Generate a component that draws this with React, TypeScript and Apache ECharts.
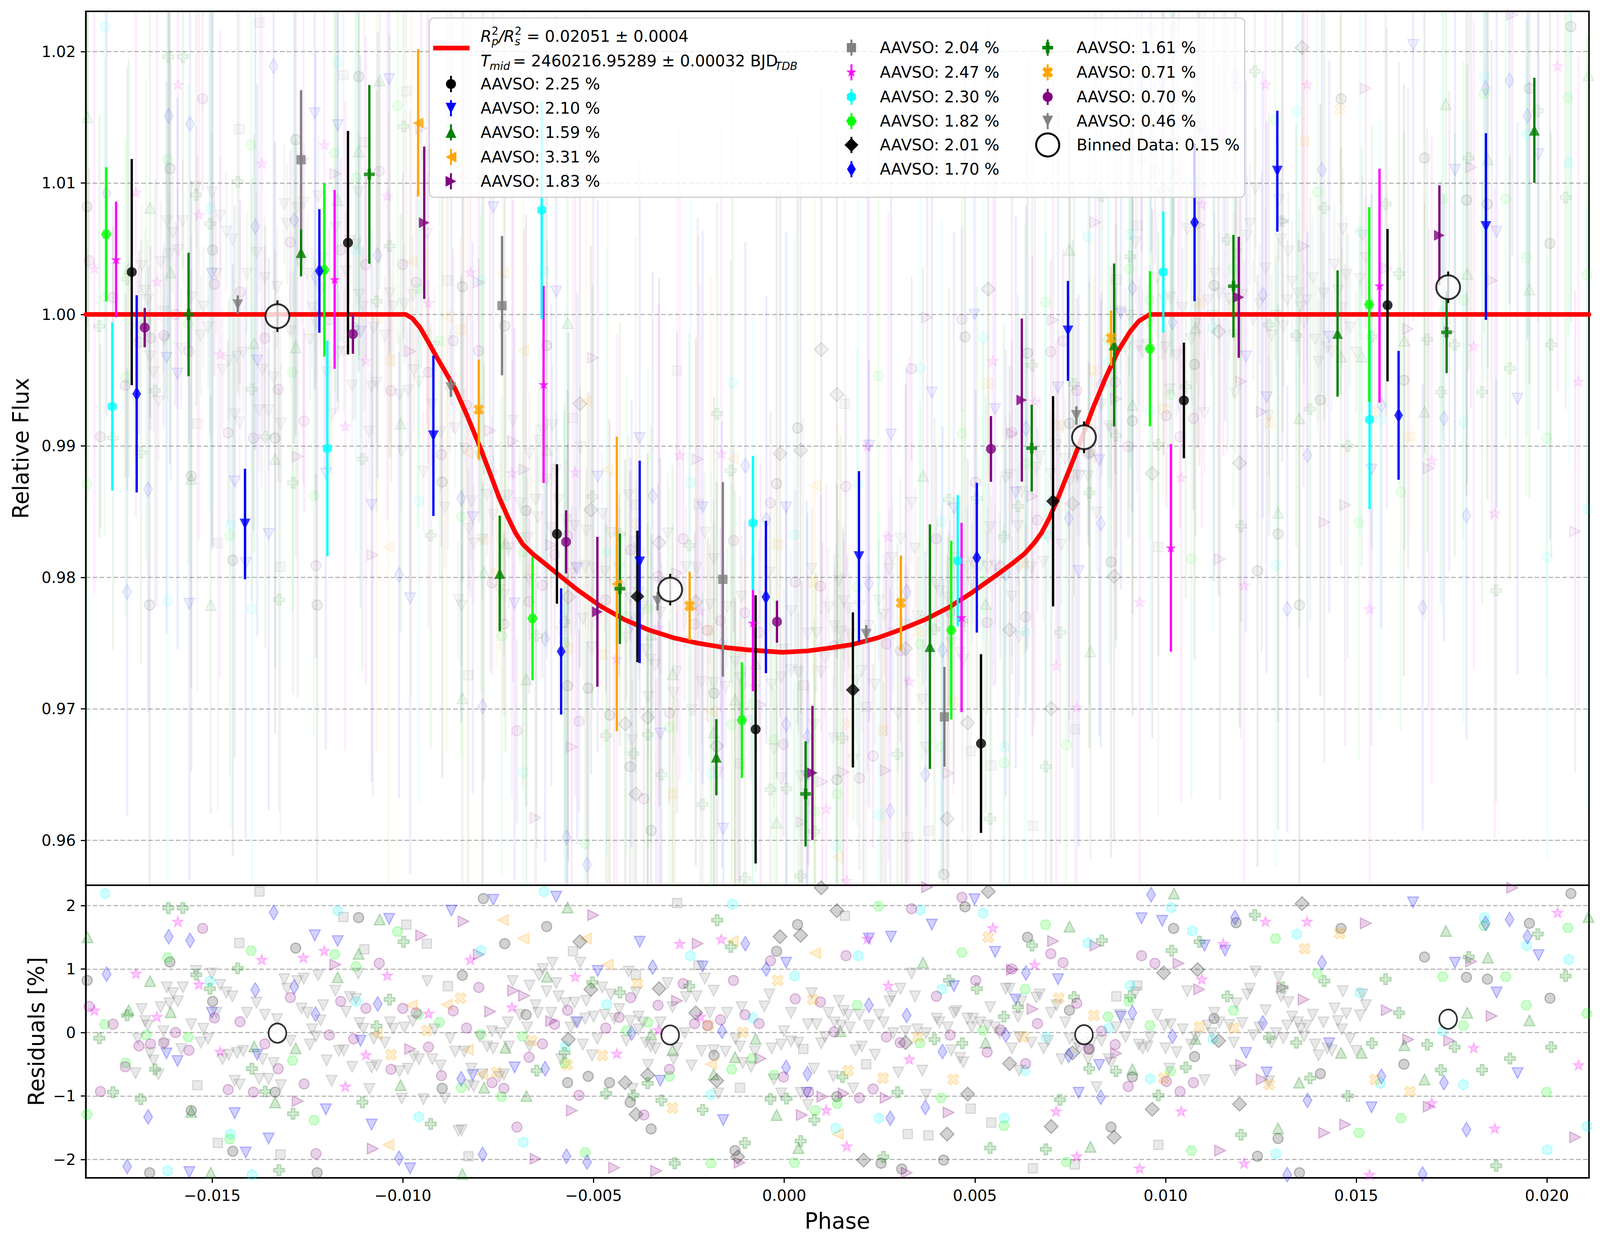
import React, { useEffect, useRef } from 'react';
import * as echarts from 'echarts';

const REF_W = 4215;
const REF_H = 3192;
const FONT = 'DejaVu Sans';

const X_MIN = -0.018315;
const X_MAX = 0.021103;
const Y_MIN = 0.95658;
const Y_MAX = 1.02306;
const R_MIN = -2.29;
const R_MAX = 2.32;

const xTicks = [-0.015, -0.01, -0.005, 0, 0.005, 0.01, 0.015, 0.02];
const yTicks = [0.96, 0.97, 0.98, 0.99, 1.0, 1.01, 1.02];
const rTicks = [-2, -1, 0, 1, 2];

// transit model
const modelX = [-0.018315, -0.00992, -0.00975, -0.00955, -0.00935, -0.00914, -0.0089, -0.00862, -0.0083, -0.00799, -0.0077, -0.00748, -0.00725, -0.00705, -0.00685, -0.0066, -0.0063, -0.00596, -0.0054, -0.00481, -0.0042, -0.00355, -0.0029, -0.00228, -0.00165, -0.00101, -0.00006, 0.0006, 0.00113, 0.0018, 0.00245, 0.00303, 0.0037, 0.00431, 0.0049, 0.00558, 0.006, 0.0063, 0.00655, 0.00675, 0.00695, 0.00716, 0.00745, 0.00779, 0.0081, 0.00843, 0.00875, 0.00907, 0.0093, 0.00958, 0.021103];
const modelY = [1.0, 1.0, 0.9997, 0.999, 0.998, 0.9969, 0.9957, 0.9943, 0.9922, 0.99, 0.9878, 0.9861, 0.9846, 0.9834, 0.9825, 0.9818, 0.9811, 0.9803, 0.979, 0.9778, 0.9768, 0.976, 0.9754, 0.975, 0.9747, 0.9745, 0.9743, 0.9744, 0.9746, 0.9749, 0.9754, 0.976, 0.9768, 0.9777, 0.9788, 0.9802, 0.9811, 0.9818, 0.9826, 0.9834, 0.9845, 0.9859, 0.988, 0.9905, 0.9929, 0.9952, 0.9972, 0.9987, 0.9995, 1.0, 1.0];

// overall binned data
const binnedX = [-0.01329, -0.00299, 0.00786, 0.01741];
const binnedY = [0.99987, 0.97907, 0.99066, 1.00207];
const binnedErr = [0.0012, 0.0012, 0.0012, 0.0012];
const binnedRes = [-0.01, -0.04, -0.035, 0.21];

// scatter (legend) percentages per dataset
const scatterPct = [2.25, 2.1, 1.59, 3.31, 1.83, 2.04, 2.47, 2.3, 1.82, 2.01, 1.7, 1.61, 0.71, 0.7, 0.46];

// per-dataset binned points [phase, flux, err]
const binBlackCircle = [[-0.01711, 1.00323, 0.0086], [-0.01144, 1.00546, 0.0085], [-0.00596, 0.9833, 0.0053], [-0.00075, 0.96844, 0.0102], [0.00516, 0.96736, 0.0068], [0.01048, 0.99346, 0.0044], [0.01582, 1.00071, 0.0058]];
const binBlueTri = [[-0.01414, 0.98406, 0.0042], [-0.0092, 0.99077, 0.0061], [-0.00379, 0.98118, 0.0077], [0.00196, 0.98158, 0.0065], [0.00744, 0.99875, 0.0038], [0.01293, 1.0109, 0.0046], [0.0184, 1.00669, 0.0071]];
const binGreenTri = [[-0.01267, 1.0047, 0.0018], [-0.00746, 0.9803, 0.0044], [-0.00178, 0.96632, 0.0029], [0.00382, 0.97473, 0.0093], [0.00865, 0.99768, 0.0062], [0.01451, 0.99855, 0.0048], [0.01967, 1.01401, 0.004]];
const binOrangeLeft = [[-0.0096, 1.01457, 0.0056], [-0.00439, 0.9795, 0.0112]];
const binPurpleRight = [[-0.00944, 1.00698, 0.0058], [-0.0049, 0.97738, 0.0057], [0.00074, 0.96513, 0.0051], [0.00623, 0.99349, 0.0062], [0.01192, 1.00131, 0.0046], [0.01718, 1.00602, 0.0038]];
const binGraySquare = [[-0.01267, 1.01177, 0.0053], [-0.0074, 1.00067, 0.0053], [-0.00161, 0.97985, 0.0074], [0.0042, 0.96939, 0.0038]];
const binMagentaStar = [[-0.01752, 1.00418, 0.0044], [-0.01179, 1.00267, 0.0068], [-0.00631, 0.99468, 0.0075], [-0.00082, 0.97654, 0.0052], [0.00465, 0.97695, 0.0072], [0.01014, 0.98225, 0.0079], [0.01561, 1.00219, 0.0089]];
const binCyanHex = [[-0.01762, 0.993, 0.0064], [-0.01198, 0.98981, 0.0082], [-0.00636, 1.00794, 0.0083], [-0.00082, 0.98414, 0.0051], [0.00455, 0.98126, 0.005], [0.00994, 1.00323, 0.0046], [0.01535, 0.992, 0.0068]];
const binLimeHex = [[-0.01778, 1.0061, 0.0051], [-0.01206, 1.00339, 0.0066], [-0.0066, 0.97687, 0.0047], [-0.00111, 0.96914, 0.0044], [0.00438, 0.97599, 0.0068], [0.00959, 0.99739, 0.0059], [0.01534, 1.00076, 0.0074]];
const binBlackDiamond = [[-0.00385, 0.97855, 0.005], [0.0018, 0.97144, 0.0059], [0.00705, 0.98579, 0.008]];
const binBlueDiamond = [[-0.01698, 0.99396, 0.0075], [-0.01219, 1.00331, 0.0047], [-0.00585, 0.97437, 0.0048], [-0.00048, 0.97851, 0.0058], [0.00505, 0.9815, 0.0057], [0.01076, 1.00701, 0.006], [0.01611, 0.99233, 0.0049]];
const binGreenPlus = [[-0.01562, 1.0, 0.0047], [-0.01088, 1.01066, 0.0068], [-0.00431, 0.97914, 0.0042], [0.00056, 0.96353, 0.004], [0.00649, 0.98983, 0.0033], [0.01178, 1.00215, 0.0039], [0.01737, 0.99864, 0.0031]];
const binOrangeX = [[-0.00801, 0.99276, 0.0038], [-0.00248, 0.97783, 0.0026], [0.00306, 0.97806, 0.0036], [0.00857, 0.9982, 0.0021]];
const binPurpleCircle = [[-0.01677, 0.999, 0.0015], [-0.01131, 0.99851, 0.0015], [-0.00572, 0.9827, 0.0024], [-0.00019, 0.97663, 0.0016], [0.00542, 0.98977, 0.0025]];
const binGrayTri = [[-0.01433, 1.00075, 0.0007], [-0.00874, 0.99444, 0.0007], [-0.00332, 0.97819, 0.0007], [0.00215, 0.97567, 0.0007], [0.00766, 0.99232, 0.0007]];

// per-dataset residuals [phase, residual %]
const resBlackCircle = [[-0.01828, 0.82], [-0.01611, 1.11], [-0.01499, 0.49], [-0.01281, 1.33], [-0.01116, 1.81], [-0.01555, -1.23], [-0.01335, -0.94], [-0.01446, -1.87], [-0.01664, -2.21], [-0.01225, -2.21], [-0.00897, -0.88], [-0.00844, 0.9],
  [-0.00789, 2.11], [-0.00623, 1.67], [-0.00733, 1.4], [-0.00677, 0.28], [-0.00568, -0.79], [-0.00514, -0.69], [-0.00458, -0.79], [-0.00404, -1.1], [-0.00349, -1.52], [-0.00184, -0.36], [-0.0002, 1.28], [0.00035, 1.7], [-0.00129, -1.86], [0.00138, -1.01],
  [0.00474, 1.98], [0.00638, 1.5], [0.00748, 0.35], [0.008, -0.26], [0.00913, -0.7], [0.01076, -0.38], [0.01021, 1.64], [0.00857, -1.49], [0.00418, -2.01], [0.00254, -2.06], [0.00308, -2.15], [0.01127, 0.22],
  [0.01185, 1.73], [0.0146, 1.64], [0.01679, 1.19], [0.01789, 0.87], [0.01844, 0.84], [0.01954, 1.72], [0.02008, 0.54], [0.02063, 2.19], [0.01406, -0.65], [0.01625, -0.5], [0.01295, -1.67], [0.01241, -1.95], [0.01351, -2.21]];
const resBlueTri = [[-0.01231, 1.53], [-0.01171, 1.44], [-0.01036, 1.79], [-0.00873, 1.92], [-0.0162, -0.33], [-0.01591, -0.45], [-0.01501, 0.31], [-0.01382, -0.35], [-0.01111, -0.13], [-0.01441, -1.27], [-0.01202, -1.21], [-0.01082, -1.45], [-0.01352, -1.67], [-0.01412, -1.89], [-0.0156, -2.2], [-0.00981, -2.14],
  [-0.00763, 2.09], [-0.00598, 2.14], [-0.00379, 1.43], [-0.00489, 0.97], [-0.00214, 1.04], [0.00005, 1.1], [-0.00543, 0.16], [-0.00707, -0.55], [-0.00817, -0.67], [-0.00325, -0.76], [-0.0016, -1.38], [0.00059, -0.95],
  [0.00499, 2.1], [0.00387, 1.7], [0.00222, 1.48], [0.0028, 1.51], [0.00553, 1.27], [0.00718, 0.84], [0.00445, 0.73], [0.00607, 0.52], [0.00883, 0.25], [0.00937, 1.8], [0.00991, 1.76], [0.01102, 1.37], [0.00826, -0.51], [0.00772, -0.95],
  [0.01156, 1.29], [0.01649, 2.05], [0.01759, 1.1], [0.01868, 0.63], [0.01978, 1.22], [0.01211, -0.32], [0.01265, -0.63], [0.01429, -0.17], [0.0154, -1.18], [0.01923, -0.64]];
const resGreenTri = [[-0.01663, 0.81], [-0.01719, 0.35], [-0.01609, 0.32], [-0.01171, 0.87], [-0.01116, 1.24], [-0.01061, 1.78], [-0.0139, -0.22], [-0.01281, -0.25], [-0.01335, -1.1], [-0.01555, -1.25], [-0.01006, -0.83], [-0.01827, 1.5], [-0.01504, -2.21],
  [-0.00568, 1.97], [-0.00622, 0.88], [-0.00731, -0.24], [-0.00787, -0.87], [-0.00676, -1.0], [-0.00349, -0.03], [-0.00293, -0.28], [-0.00129, -0.39], [-0.00075, -0.1], [-0.00185, -0.66], [-0.0002, -1.3], [0.00037, -1.82], [-0.00844, -2.23],
  [0.01022, 2.19], [0.00748, 1.67], [0.00364, 1.1], [0.00147, 0.02], [0.00528, -0.16], [0.00913, -0.58], [0.01078, -0.1], [0.00803, -1.8],
  [0.01735, 1.6], [0.01845, 1.18], [0.01791, 0.31], [0.01954, 0.19], [0.01626, -0.2], [0.0146, -0.32], [0.01514, -0.32], [0.0135, -0.79], [0.01679, -0.74], [0.01295, -1.51], [0.02109, 1.82]];
const resOrangeLeft = [[-0.00977, 0.43], [-0.00885, 0.44], [-0.01069, -0.03], [-0.01038, -1.77], [-0.00738, 1.77], [-0.00684, 1.48], [-0.0052, 1.48], [-0.00463, 1.07], [-0.0083, -0.27], [-0.00192, -0.5], [-0.00135, 1.44], [0.00081, 1.25], [-0.00792, -0.66], [0.0014, -1.6]];
const resPurpleRight = [[-0.01177, 1.07], [-0.00952, 1.53], [-0.00981, -0.26], [-0.01276, -1.08], [-0.01079, -1.83], [-0.00841, 1.75],
  [-0.00501, 1.85], [-0.00227, 1.4], [-0.00801, 1.23], [-0.00711, 0.66], [-0.00682, 0.58], [-0.00771, 0.33], [-0.00611, 0.18], [-0.00281, 0.5], [-0.00062, -0.41], [-0.00557, -1.23], [0.00046, -1.3], [0.001, -1.01], [-0.00652, -1.99], [-0.00446, -2.13], [-0.00336, -2.18], [-0.00117, -2.05],
  [0.00375, 2.29], [0.00705, 1.44], [0.00816, 1.37], [0.00597, 0.99], [0.00651, 0.37], [0.01034, 1.09], [0.01088, 0.68], [0.0087, -0.33], [0.00156, -0.96], [0.00266, -1.03], [0.00431, -1.26], [0.00321, -2.21],
  [0.01525, 1.72], [0.01909, 2.28], [0.01801, 1.12], [0.01362, 0.52], [0.0158, 0.35], [0.01855, 0.26], [0.01636, -0.11], [0.01744, -0.13], [0.01198, -0.51], [0.01252, -0.74], [0.0169, -1.17], [0.01471, -1.45], [0.01416, -1.58], [0.01143, -1.86], [0.02074, -1.65], [0.01306, 0.71]];
const resGraySquare = [[-0.01376, 2.22], [-0.01429, 1.41], [-0.01156, 1.82], [-0.01101, 1.31], [-0.00991, 1.7], [-0.00937, 1.4], [-0.00882, 0.73], [-0.01539, -0.83], [-0.01485, -1.74], [-0.01321, -1.92],
  [-0.00281, 2.04], [-0.00554, 1.28], [-0.00389, 0.91], [-0.00225, 1.06], [0.0005, -0.26], [-0.00116, -0.87], [-0.00828, -1.95],
  [0.00159, 1.84], [0.00926, 0.74], [0.00871, 0.57], [0.00215, -0.5], [0.00489, -1.2], [0.00543, -1.42], [0.00324, -1.6], [0.00378, -1.62], [0.00652, -2.14], [0.00762, -2.08], [0.00981, -1.77]];
const resMagentaStar = [[-0.0159, 1.75], [-0.017, 0.93], [-0.01535, 0.76], [-0.01809, 0.35], [-0.01645, 0.25], [-0.0137, 1.15], [-0.01261, 1.18], [-0.01206, 1.29], [-0.01041, 0.9], [-0.00933, 0.3], [-0.01479, -0.3], [-0.01097, -0.35], [-0.01151, -0.85],
  [-0.00823, 1.15], [-0.00714, 0.4], [-0.00548, 0.88], [-0.00439, -0.33], [-0.00274, 1.4], [-0.00165, 1.47], [-0.0022, 0.25], [-0.0033, 0.04], [0.0011, -1.22],
  [0.00547, 1.65], [0.00218, 1.48], [0.00273, 0.74], [0.00657, 1.07], [0.01095, 0.84], [0.00328, -0.42], [0.00713, -1.24], [0.01041, -1.24], [0.00164, -1.79], [0.00767, -1.95], [0.00932, -2.14],
  [0.01262, 1.75], [0.01371, 1.75], [0.01151, 1.4], [0.02028, 1.89], [0.01808, -0.24], [0.02083, -0.51], [0.01698, -1.11], [0.01863, -1.51], [0.01206, -2.06], [0.01535, -2.24]];
const resCyanHex = [[-0.01781, 2.19], [-0.01171, 1.92], [-0.01506, 0.81], [-0.01123, 0.49], [-0.01452, -1.6], [-0.00958, -1.33], [-0.01617, -2.18], [-0.01396, -2.24],
  [-0.0063, 2.22], [-0.00795, 1.29], [-0.00465, 0.44], [-0.00574, -0.22], [-0.00246, 1.21], [-0.00136, 2.02], [0.00027, 0.89], [-0.00082, 0.23], [-0.00192, -0.98], [-0.00684, -1.73], [0.00135, -1.51],
  [0.00357, 1.93], [0.00522, 1.88], [0.00194, 1.21], [0.00413, 0.68], [0.00796, 1.41], [0.01015, 1.97], [0.0107, 1.6], [0.00907, 0.74], [0.00851, 0.07], [0.00686, -0.07], [0.00632, -0.6], [0.00959, -0.73], [0.00248, -1.35], [0.00577, -1.35], [0.01124, -0.1],
  [0.01344, 1.55], [0.01836, 1.81], [0.01947, 1.37], [0.02057, 1.15], [0.01509, 0.63], [0.01727, 0.02], [0.01563, -0.8], [0.01781, -0.82], [0.01289, -1.91], [0.02001, -1.85], [0.02106, -1.48]];
const resLimeHex = [[-0.01617, 1.18], [-0.01782, 0.13], [-0.01673, -0.04], [-0.01563, -0.07], [-0.01398, 1.29], [-0.01179, 1.23], [-0.01123, 1.04], [-0.01014, 1.59], [-0.00904, 0.16], [-0.01727, -0.48], [-0.01289, -0.44], [-0.01233, -1.38], [-0.01454, -1.68], [-0.0096, 0.28], [-0.01828, -1.29],
  [-0.00795, -0.03], [-0.00686, -0.06], [-0.00576, -0.48], [-0.00741, -1.01], [-0.00413, 0.03], [-0.00357, 0.16], [-0.00301, -0.69], [-0.00138, -0.58], [-0.00084, -0.41], [-0.00027, -0.67], [0.00081, -1.23], [-0.00522, -1.89], [-0.00192, -2.06], [0.00027, -2.05], [-0.00847, -0.87],
  [0.00247, 1.99], [0.00466, 1.26], [0.00685, 1.7], [0.00191, 0.43], [0.00632, 0.68], [0.00521, 0.03], [0.00356, -0.17], [0.00849, 0.25], [0.00904, 0.49], [0.00959, 0.11], [0.01013, -0.61], [0.00411, -1.03], [0.00576, -1.47], [0.0074, -2.04], [0.01068, -1.86], [0.00139, -1.12],
  [0.01288, 1.48], [0.01398, 0.93], [0.01727, 0.88], [0.01892, 0.88], [0.01835, 1.68], [0.02055, 1.65], [0.01946, 0.43], [0.01781, 0.11], [0.01178, 0.35], [0.01617, -1.35], [0.01507, -1.58], [0.01999, -0.94], [0.02105, 0.3]];
const resBlackDiamond = [[-0.00536, 1.43], [-0.00507, 0.68], [-0.00566, -0.11], [-0.00328, 0.69], [-0.00232, 0.31], [-0.00417, -0.79], [-0.00358, -0.67], [-0.00389, -1.29], [-0.00177, -0.76], [-0.00011, 1.51], [0.00043, 1.53], [-0.00122, -1.96], [0.00097, 2.28], [0.00138, 1.92],
  [0.00535, 2.22], [0.00318, -0.16], [0.00591, -0.49], [0.00756, -0.32], [0.00995, 0.94], [0.01084, 0.99], [0.00481, -0.97], [0.00427, -1.6], [0.007, -1.48], [0.00865, -1.65], [0.00965, -1.21], [0.00208, -2.01],
  [0.01358, 2.03], [0.01139, -0.13], [0.01194, -1.13]];
const resBlueDiamond = [[-0.01339, 1.89], [-0.01614, 1.51], [-0.01558, 1.45], [-0.01777, 0.92], [-0.01387, 0.67], [-0.01285, 0.72], [-0.01229, 0.29], [-0.01066, 0.45], [-0.01668, -1.33], [-0.01723, -2.11], [-0.0101, -1.98], [-0.00847, -0.73],
  [-0.00345, 1.03], [-0.00102, 1.4], [-0.00047, 1.0], [-0.004, -0.01], [-0.00163, 0.02], [-0.00627, -0.57], [0.00005, -0.55], [0.00061, -0.65], [-0.00791, -1.92], [-0.00571, -1.95], [-0.00517, -2.04],
  [0.00222, 0.43], [0.00321, 0.27], [0.00415, -0.3], [0.00581, -0.04], [0.00634, 0.94], [0.00746, -0.36], [0.00913, 0.31], [0.00962, 2.17], [0.01018, -0.06], [0.0083, -1.02], [0.0037, -1.18], [0.00278, -1.35],
  [0.01182, 1.81], [0.0141, 1.1], [0.01839, 1.72], [0.01902, 1.78], [0.01949, 1.51], [0.01255, 0.15], [0.01566, -0.69], [0.0173, -0.79], [0.01372, -1.07], [0.01789, -1.53], [0.01674, -2.23], [0.01319, -2.24]];
const resGreenPlus = [[-0.01615, 1.96], [-0.01577, 1.96], [-0.01433, 1.01], [-0.01542, 0.91], [-0.01506, 0.69], [-0.01723, 0.27], [-0.01796, -0.09], [-0.0165, -0.58], [-0.0176, -0.94], [-0.01687, -1.05], [-0.01396, -0.57], [-0.01361, -0.93], [-0.01288, -1.28], [-0.01325, -2.17], [-0.00998, 1.43], [-0.01035, 0.52], [-0.01069, 0.1], [-0.01106, -1.1], [-0.00927, -1.44],
  [-0.00176, 1.77], [-0.0014, 1.35], [-0.00503, 0.79], [-0.00431, 0.63], [-0.00249, 0.73], [-0.00576, -0.32], [-0.00649, -0.6], [-0.00358, -0.8], [-0.00467, -0.96], [-0.00395, -0.99], [-0.00322, -1.07], [-0.00214, -1.22], [-0.00036, -1.05], [0.00006, -1.04], [0.00079, -1.38], [-0.00103, -1.74], [0.00043, -1.71], [-0.00287, -2.06],
  [0.00432, 0.82], [0.00505, 0.69], [0.00613, 0.4], [0.00576, 0.25], [0.0076, 0.56], [0.0065, 1.37], [0.00833, 1.45], [0.01016, 1.29], [0.01089, 1.43], [0.00394, -0.11], [0.00467, -0.17], [0.00153, -0.7], [0.00297, -0.94], [0.00723, -1.06], [0.008, -0.57], [0.0087, -0.61], [0.01053, -0.55], [0.00981, -0.99], [0.0054, -1.82], [0.00686, -1.84], [0.0026, -1.96], [0.00907, 0.57],
  [0.01234, 1.85], [0.01416, 0.81], [0.01577, 0.84], [0.01795, 1.19], [0.01976, 1.55], [0.02049, 0.89], [0.01162, 0.57], [0.01612, 0.31], [0.01271, -0.08], [0.01343, -0.16], [0.01541, -0.17], [0.01686, -0.19], [0.01758, -0.23], [0.02011, -0.23], [0.01903, -0.41], [0.01722, -0.59], [0.0183, -0.59], [0.01379, -0.72], [0.01478, -1.0], [0.01198, -1.61], [0.01867, -2.1], [0.01307, 0.71]];
const resOrangeX = [[-0.01031, -0.35], [-0.00937, 0.03], [-0.00849, 0.54],
  [-0.00385, 0.77], [-0.00662, -0.13], [-0.00477, -0.36], [-0.00569, -0.51], [-0.00754, -0.63], [-0.00199, 0.11], [-0.00109, 0.0], [-0.00017, 0.82], [0.00075, 0.52], [-0.00293, -1.19],
  [0.00535, 1.5], [0.0072, 0.54], [0.00812, 0.27], [0.00351, -0.07], [0.00627, -0.07], [0.00168, -0.6], [0.00259, -0.72], [0.00443, -0.74], [0.00995, -0.72], [0.01089, 0.09],
  [0.01457, 1.56], [0.01365, 1.32], [0.01179, 0.07], [0.01272, -0.82], [0.01549, -0.74], [0.01641, -0.93]];
const resPurpleCircle = [[-0.01525, 1.64], [-0.01062, 1.09], [-0.01823, 0.41], [-0.0176, 0.13], [-0.01692, -0.21], [-0.01662, -0.18], [-0.01627, -0.16], [-0.01596, 0.0], [-0.01561, -0.28], [-0.01494, 0.23], [-0.01427, 0.17], [-0.01362, -0.18], [-0.01295, 0.55], [-0.01193, -0.04], [-0.01163, 0.49], [-0.01129, -0.1], [-0.01097, 0.38], [-0.01, 0.38], [-0.00965, 0.31], [-0.00933, -0.23], [-0.00868, 0.34], [-0.01728, -0.54], [-0.01793, -0.93], [-0.01458, -0.9], [-0.01392, -0.94], [-0.01327, -0.57], [-0.01259, -0.81], [-0.01031, -0.58], [-0.00899, -0.68], [-0.01228, -1.91],
  [-0.00801, 0.71], [-0.00833, 0.07], [-0.00568, 0.35], [-0.00602, 0.13], [-0.00634, -0.18], [-0.00669, -0.39], [-0.00766, -0.79], [-0.00735, -0.88], [-0.00468, 0.07], [-0.00433, 0.24], [-0.00403, 0.55], [-0.00331, 0.43], [-0.00265, 0.77], [-0.00235, 0.14], [-0.00167, 0.2], [-0.00133, 0.82], [-0.00103, 0.28], [-0.00066, 0.14], [-0.00036, 1.13], [0.00029, 0.53], [0.00095, 0.48], [0.00131, 0.01], [-0.00301, -0.58], [-0.00002, -0.7], [0.00064, -0.94], [-0.00538, -0.99], [-0.00368, -1.3], [-0.00701, -1.49], [-0.00201, 0.11],
  [0.00162, 1.21], [0.00334, 1.95], [0.00466, 2.13], [0.00399, 0.57], [0.00502, 0.82], [0.00597, 1.0], [0.00699, 1.24], [0.00731, 1.1], [0.00767, 0.46], [0.00664, 0.14], [0.00567, 0.04], [0.00435, -0.04], [0.00268, -0.07], [0.00304, -0.16], [0.00532, -0.31], [0.00633, -0.49], [0.00798, -0.26], [0.00832, 0.02], [0.00868, -0.19], [0.00937, 1.21], [0.00972, 1.09], [0.00902, -0.85], [0.01002, -0.77], [0.01038, -0.93], [0.01073, -0.79], [0.00233, -0.89], [0.00197, -1.03]];
const resGrayTri = [[-0.01619, 0.71], [-0.01603, 0.62], [-0.01577, 0.71], [-0.0159, 0.49], [-0.01635, 0.4], [-0.01612, 0.46], [-0.01685, 0.37], [-0.01676, 0.18], [-0.01669, 0.11], [-0.01695, -0.1], [-0.01663, -0.32], [-0.01654, -0.44], [-0.01701, -0.64], [-0.01641, -0.66], [-0.01628, 0.02], [-0.01625, -0.19], [-0.01581, -0.26], [-0.01555, 0.13], [-0.01523, 0.06], [-0.0153, -0.16], [-0.01511, -0.1], [-0.01542, 0.97], [-0.01501, 0.93], [-0.01479, 0.75], [-0.01463, 0.63], [-0.01447, 0.57], [-0.01489, 0.31], [-0.01441, -0.76], [-0.01428, -0.82], [-0.01473, -0.42], [-0.01457, -0.35], [-0.01435, -0.32], [-0.01419, -0.29], [-0.01409, 0.31], [-0.01384, 0.47], [-0.01362, 0.28], [-0.01368, -0.42], [-0.01377, -0.73], [-0.01352, -0.73], [-0.01339, -0.48], [-0.0132, -0.83], [-0.0133, 0.21], [-0.01311, 0.84], [-0.01304, 0.69], [-0.01295, -0.13], [-0.01276, 0.81], [-0.0126, 0.85], [-0.01266, 0.38], [-0.0125, 0.31], [-0.01222, 0.9], [-0.01209, 0.43], [-0.01216, 0.19], [-0.01238, 0.05], [-0.01228, -0.06], [-0.01244, -0.19], [-0.012, -0.44], [-0.01187, -0.76], [-0.01177, 0.66], [-0.01168, -0.29], [-0.01155, -0.28], [-0.01149, 0.33], [-0.01139, 0.56], [-0.01123, 0.53], [-0.01117, 0.93], [-0.01114, 0.15], [-0.01104, 0.06], [-0.01133, -0.54], [-0.01082, -0.55], [-0.01069, -0.52], [-0.01088, -0.89], [-0.01076, -0.1], [-0.01047, -0.16], [-0.01034, 0.16], [-0.01025, 0.06], [-0.01009, -0.61], [-0.01003, -1.04], [-0.00996, 0.08], [-0.00987, -0.57], [-0.00974, 0.18], [-0.00971, -0.38], [-0.00958, -0.42], [-0.00946, -1.05], [-0.00936, 0.81], [-0.00923, -0.42], [-0.00917, 0.05], [-0.00901, -0.52], [-0.0089, -1.04], [-0.00876, -0.09], [-0.00863, -0.3], [-0.00854, -1.55],
  [-0.00608, 1.1], [-0.00535, 1.1], [-0.00633, 1.0], [-0.00643, 0.9], [-0.00598, 0.78], [-0.00712, 0.81], [-0.00668, 0.74], [-0.00623, 0.65], [-0.00592, 0.57], [-0.00573, 0.46], [-0.0055, 0.47], [-0.00519, 0.5], [-0.00477, 0.71], [-0.00455, 0.6], [-0.00433, 0.37], [-0.00408, 0.96], [-0.00389, 0.63], [-0.0037, 0.16], [-0.00382, 0.25], [-0.00404, 0.18], [-0.00446, 0.22], [-0.00471, 0.28], [-0.005, 0.25], [-0.00522, 0.22], [-0.00547, 0.16], [-0.0056, 0.08], [-0.00611, 0.31], [-0.00646, 0.31], [-0.00652, 0.43], [-0.00693, 0.28], [-0.00674, 0.08], [-0.00725, 0.16], [-0.00744, -0.01], [-0.00766, 0.02], [-0.00779, -0.22], [-0.00763, -0.25], [-0.00798, -0.07], [-0.00839, -0.3], [-0.0082, -0.57], [-0.00827, -0.83], [-0.00814, -0.85], [-0.00792, -0.66], [-0.00747, -0.7], [-0.00735, -0.66], [-0.00722, -0.22], [-0.00668, -0.22], [-0.00585, -0.42], [-0.00528, -0.19], [-0.00504, -0.36], [-0.0049, -0.1], [-0.00414, -0.13], [-0.00363, -0.16], [-0.00338, -0.25], [-0.0035, -0.22], [-0.00382, 0.05], [-0.00325, 0.16], [-0.00306, 0.78], [-0.00293, 0.4], [-0.00258, 0.56], [-0.0023, 0.57], [-0.00208, 0.85], [-0.00185, 0.66], [-0.00195, 0.31], [-0.0015, 0.31], [-0.00112, 0.4], [-0.00052, 0.41], [-0.00039, 0.6], [0.00018, 0.31], [0.00072, 0.62], [0.00062, 0.13], [0.00085, 0.13], [0.00116, 0.31], [0.00132, 0.16], [-0.00001, 0.02], [-0.00033, -0.25], [-0.00008, -0.19], [0.00018, -0.14], [0.00037, -0.16], [0.00097, -0.17], [0.00107, -0.07], [-0.00128, -0.1], [-0.00116, -0.22], [-0.00109, -0.48], [-0.00087, -0.54], [-0.00077, -0.3], [-0.00154, -0.3], [-0.00185, -0.28], [-0.00217, -0.29], [-0.00243, -0.52], [-0.00281, -0.25], [-0.0029, -0.42], [-0.00261, -0.01], [-0.00357, -0.51], [-0.00027, -0.74], [-0.00008, -0.96], [0.00043, -0.95], [0.00062, -1.14], [0.00078, -0.57], [0.00129, -0.69], [-0.00173, -0.96], [-0.00398, -0.89], [-0.00846, -1.54],
  [0.00143, 0.5], [0.00156, 0.34], [0.00168, 0.28], [0.00197, 0.28], [0.00149, 0.11], [0.00172, 0.08], [0.00222, 0.11], [0.00187, -0.28], [0.00203, -0.22], [0.00238, -0.35], [0.00248, 0.28], [0.00261, 0.16], [0.00276, 0.49], [0.00283, 0.57], [0.00305, 0.69], [0.00343, 0.57], [0.00334, 0.93], [0.00286, -0.01], [0.00318, 0.02], [0.00349, 0.05], [0.00372, -0.01], [0.004, 0.22], [0.00407, 0.16], [0.00429, 0.08], [0.00445, 0.31], [0.00451, 0.34], [0.00438, -0.28], [0.00461, -0.4], [0.0047, -0.47], [0.0048, 0.22], [0.00495, 0.22], [0.00492, 0.08], [0.00514, 0.16], [0.00533, 0.11], [0.0054, 0.4], [0.00553, 0.08], [0.00565, -0.01], [0.00581, 0.69], [0.00591, 0.69], [0.00613, 0.25], [0.00622, 0.49], [0.00597, -0.25], [0.00616, -0.07], [0.00648, -0.16], [0.00661, 0.55], [0.0067, 0.6], [0.0068, -0.25], [0.00692, -0.13], [0.00699, 0.31], [0.00714, 0.43], [0.00737, 0.16], [0.00727, -0.42], [0.00749, -0.1], [0.00768, -0.19], [0.00797, -0.42], [0.00819, -0.86], [0.00832, -0.13], [0.00851, -0.42], [0.00857, -0.48], [0.0087, 0.08], [0.0088, 0.28], [0.00895, -0.07], [0.00905, 0.13], [0.00921, 0.63], [0.0093, -0.19], [0.0094, -0.25], [0.00953, -0.22], [0.00959, -0.07], [0.00978, 0.28], [0.00997, 0.11], [0.01, -0.25], [0.01013, 0.13], [0.01029, -0.31], [0.01045, 0.05], [0.01057, 0.65], [0.01067, -0.19], [0.0108, -0.07], [0.01102, -0.75], [0.01111, 0.11], [0.01121, -0.01], [0.0101, -0.57], [0.00806, -0.16], [0.00616, -0.6], [0.00372, -0.98], [0.00299, -0.63], [0.00362, -0.6], [0.00181, -0.88], [0.00775, -0.25],
  [0.01128, 0.31], [0.01141, 0.16], [0.01167, 0.12], [0.01179, -0.16], [0.01186, 0.46], [0.01201, 0.15], [0.01214, 0.6], [0.01221, 0.69], [0.01236, 0.96], [0.0123, -0.04], [0.01246, 0.08], [0.01262, 0.35], [0.01278, -0.16], [0.0129, -0.01], [0.01297, 0.87], [0.01303, 0.57], [0.01309, -0.09], [0.01322, 0.48], [0.01319, 0.11], [0.01332, 0.25], [0.01347, 0.16], [0.01354, 0.06], [0.01363, -0.06], [0.0137, 0.11], [0.01386, 0.28], [0.01392, -0.19], [0.01401, -0.36], [0.01414, 0.16], [0.01424, -0.25], [0.01436, -0.28], [0.01443, 0.38], [0.01452, 0.18], [0.01462, 0.05], [0.01465, 0.65], [0.01474, 0.3], [0.01484, -0.1], [0.015, -0.29], [0.0151, 0.27], [0.01516, 0.6], [0.01525, 0.43], [0.01182, -0.6], [0.01271, -0.77]];

// ---------- styles ----------
type Pt = [number, number];
const STYLES = [
  { color: '#000000', kind: 'circle', size: 26 },
  { color: '#0000ff', kind: 'tri_down', size: 28 },
  { color: '#008000', kind: 'tri_up', size: 28 },
  { color: '#ffa500', kind: 'tri_left', size: 28 },
  { color: '#800080', kind: 'tri_right', size: 28 },
  { color: '#808080', kind: 'square', size: 24 },
  { color: '#ff00ff', kind: 'star', size: 28 },
  { color: '#00ffff', kind: 'hex_h', size: 27 },
  { color: '#00ff00', kind: 'hex_H', size: 27 },
  { color: '#000000', kind: 'diamond', size: 36 },
  { color: '#0000ff', kind: 'thin_diamond', size: 38 },
  { color: '#008000', kind: 'plus', size: 28 },
  { color: '#ffa500', kind: 'x', size: 30 },
  { color: '#800080', kind: 'circle', size: 26 },
  { color: '#808080', kind: 'tri_down', size: 28 },
];
const BINS = [binBlackCircle, binBlueTri, binGreenTri, binOrangeLeft, binPurpleRight, binGraySquare, binMagentaStar, binCyanHex, binLimeHex, binBlackDiamond, binBlueDiamond, binGreenPlus, binOrangeX, binPurpleCircle, binGrayTri];
const RESS = [resBlackCircle, resBlueTri, resGreenTri, resOrangeLeft, resPurpleRight, resGraySquare, resMagentaStar, resCyanHex, resLimeHex, resBlackDiamond, resBlueDiamond, resGreenPlus, resOrangeX, resPurpleCircle, resGrayTri];

function unitPts(kind: string): Pt[] {
  const poly = (n: number, a0: number, r = 1): Pt[] => {
    const o: Pt[] = [];
    for (let k = 0; k < n; k++) {
      const a = ((a0 + (360 / n) * k) * Math.PI) / 180;
      o.push([r * Math.cos(a), r * Math.sin(a)]);
    }
    return o;
  };
  const t = 1 / 3;
  const plus: Pt[] = [[-t, -1], [t, -1], [t, -t], [1, -t], [1, t], [t, t], [t, 1], [-t, 1], [-t, t], [-1, t], [-1, -t], [-t, -t]];
  switch (kind) {
    case 'tri_down': return [[-1, -1], [1, -1], [0, 1]];
    case 'tri_up': return [[0, -1], [1, 1], [-1, 1]];
    case 'tri_left': return [[-1, 0], [1, -1], [1, 1]];
    case 'tri_right': return [[1, 0], [-1, -1], [-1, 1]];
    case 'square': return [[-1, -1], [1, -1], [1, 1], [-1, 1]];
    case 'star': {
      const o: Pt[] = [];
      for (let k = 0; k < 10; k++) {
        const a = ((-90 + 36 * k) * Math.PI) / 180;
        const r = k % 2 === 0 ? 1 : 0.382;
        o.push([r * Math.cos(a), r * Math.sin(a)]);
      }
      return o;
    }
    case 'hex_h': return poly(6, -90);
    case 'hex_H': return poly(6, 0);
    case 'diamond': return [[0, -1], [1, 0], [0, 1], [-1, 0]];
    case 'thin_diamond': return [[0, -1], [0.6, 0], [0, 1], [-0.6, 0]];
    case 'plus': return plus;
    case 'x': {
      const c = Math.SQRT1_2;
      return plus.map(([x, y]) => [c * (x - y), c * (x + y)] as Pt);
    }
    default: return poly(24, 0);
  }
}

function symbolOf(kind: string, size: number): { symbol: string; symbolSize: number[] } {
  if (kind === 'circle') return { symbol: 'circle', symbolSize: [size, size] };
  const p = unitPts(kind);
  const xs = p.map((q) => q[0]);
  const ys = p.map((q) => q[1]);
  const bw = Math.max(...xs) - Math.min(...xs);
  const bh = Math.max(...ys) - Math.min(...ys);
  const d = 'path://' + p.map((q, i) => (i ? 'L' : 'M') + (q[0] * 100).toFixed(2) + ',' + (q[1] * 100).toFixed(2)).join(' ') + ' Z';
  return { symbol: d, symbolSize: [(bw * size) / 2, (bh * size) / 2] };
}

function rgba(hex: string, a: number): string {
  const n = parseInt(hex.slice(1), 16);
  return `rgba(${(n >> 16) & 255},${(n >> 8) & 255},${n & 255},${a})`;
}

function modelAt(x: number): number {
  for (let i = 0; i < modelX.length - 1; i++) {
    if (x >= modelX[i] && x <= modelX[i + 1]) {
      const t = (x - modelX[i]) / (modelX[i + 1] - modelX[i]);
      return modelY[i] + t * (modelY[i + 1] - modelY[i]);
    }
  }
  return 1;
}

function errBars(data: number[][], color: string, lw: number, opacity: number, xi: number, yi: number, z: number) {
  return {
    type: 'custom',
    xAxisIndex: xi,
    yAxisIndex: yi,
    z,
    silent: true,
    dimensions: ['x', 'y', 'e'],
    encode: { x: 0, y: 1 },
    data,
    renderItem: (params: any, api: any) => {
      const x = api.value(0);
      const y = api.value(1);
      const e = api.value(2);
      const a = api.coord([x, y - e]);
      const b = api.coord([x, y + e]);
      const cs = params.coordSys;
      const top = cs.y;
      const bot = cs.y + cs.height;
      if (a[0] < cs.x || a[0] > cs.x + cs.width) return null;
      const y1 = Math.max(top, Math.min(bot, a[1]));
      const y2 = Math.max(top, Math.min(bot, b[1]));
      if (y1 === y2) return null;
      return {
        type: 'line',
        shape: { x1: a[0], y1, x2: a[0], y2 },
        style: { stroke: color, lineWidth: lw, opacity },
      };
    },
  };
}

const minus = (s: string) => s.replace('-', '\u2212');

function buildOption(sx: number, sy: number) {
  const s = (sx + sy) / 2;
  const X = (v: number) => v * sx;
  const Y = (v: number) => v * sy;
  const S = (v: number) => v * s;

  const series: any[] = [];
  STYLES.forEach((st, i) => {
    const sym = symbolOf(st.kind, S(st.size));
    const pct = scatterPct[i];
    const faint = RESS[i].map(([x, r]) => [x, modelAt(x) + r / 100, pct / 100]);
    series.push(errBars(faint, st.color, S(5.5), 0.075, 0, 0, 1));
    series.push({
      type: 'scatter', xAxisIndex: 0, yAxisIndex: 0, z: 1, silent: true, clip: true,
      data: faint.map((d) => [d[0], d[1]]),
      symbol: sym.symbol, symbolSize: sym.symbolSize,
      itemStyle: { color: rgba(st.color, 0.07), borderColor: rgba(st.color, 0.13), borderWidth: S(3) },
    });
    series.push({
      type: 'scatter', xAxisIndex: 1, yAxisIndex: 1, z: 2, silent: true, clip: true,
      data: RESS[i],
      symbol: sym.symbol, symbolSize: sym.symbolSize,
      itemStyle: { color: rgba(st.color, 0.22), borderColor: rgba(st.color, 0.32), borderWidth: S(3) },
    });
  });
  series.push({
    type: 'line', xAxisIndex: 0, yAxisIndex: 0, z: 3, silent: true,
    data: modelX.map((x, i) => [x, modelY[i]]),
    showSymbol: false, symbol: 'none',
    lineStyle: { color: '#ff0000', width: S(12), join: 'round', cap: 'round' },
  });
  STYLES.forEach((st, i) => {
    const sym = symbolOf(st.kind, S(st.size));
    series.push(errBars(BINS[i], st.color, S(6), 1, 0, 0, 4));
    series.push({
      type: 'scatter', xAxisIndex: 0, yAxisIndex: 0, z: 5, silent: true, clip: true,
      data: BINS[i].map((d) => [d[0], d[1]]),
      symbol: sym.symbol, symbolSize: sym.symbolSize,
      itemStyle: { color: st.color },
    });
  });
  const binData = binnedX.map((x, i) => [x, binnedY[i], binnedErr[i]]);
  series.push(errBars(binData, '#000000', S(5), 1, 0, 0, 6));
  series.push({
    type: 'scatter', xAxisIndex: 0, yAxisIndex: 0, z: 7, silent: true,
    data: binData.map((d) => [d[0], d[1]]),
    symbol: 'circle', symbolSize: S(62),
    itemStyle: { color: '#ffffff', borderColor: '#000000', borderWidth: S(5) },
  });
  series.push({
    type: 'scatter', xAxisIndex: 1, yAxisIndex: 1, z: 7, silent: true,
    data: binnedX.map((x, i) => [x, binnedRes[i]]),
    symbol: 'circle', symbolSize: [S(46), S(50)],
    itemStyle: { color: '#ffffff', borderColor: '#000000', borderWidth: S(4.5) },
  });

  // ----- legend (graphic) -----
  const LF = S(41);
  const SF = S(28);
  const g: any[] = [];
  g.push({ type: 'rect', z: 100, shape: { x: X(1131), y: Y(46), width: X(2148), height: Y(459), r: S(12) }, style: { fill: 'rgba(255,255,255,0.8)', stroke: '#cccccc', lineWidth: S(3) } });
  g.push({ type: 'line', z: 101, shape: { x1: X(1141), y1: Y(123), x2: X(1237), y2: Y(123) }, style: { stroke: '#ff0000', lineWidth: S(12) } });
  const txt = (text: string, x: number, y: number, size: number, italic = false) => ({
    type: 'text', z: 101, x: X(x), y: Y(y),
    style: { text, fontSize: size, fontFamily: FONT, fontStyle: italic ? 'italic' : 'normal', fill: '#000', align: 'left', verticalAlign: 'middle' },
  });
  const y1 = 93;
  g.push(txt('R', 1266, y1, LF, true));
  g.push(txt('2', 1295, y1 - 14, SF));
  g.push(txt('p', 1295, y1 + 13, SF, true));
  g.push(txt('/', 1314, y1, LF, true));
  g.push(txt('R', 1327, y1, LF, true));
  g.push(txt('2', 1356, y1 - 14, SF));
  g.push(txt('s', 1356, y1 + 13, SF, true));
  g.push(txt(' = 0.02051 \u00b1 0.0004', 1374, y1, LF));
  const y2 = 156;
  g.push(txt('T', 1266, y2, LF, true));
  g.push(txt('mid', 1290, y2 + 13, SF, true));
  g.push(txt(' = 2460216.95289 \u00b1 0.00032 BJD', 1338, y2, LF));
  g.push(txt('TDB', 2042, y2 + 13, SF, true));

  const cols = [
    { hx: 1188, tx: 1266, rows: [215, 277, 339, 402, 464], idx: [0, 1, 2, 3, 4] },
    { hx: 2243, tx: 2318, rows: [122, 185, 248, 310, 371, 433], idx: [5, 6, 7, 8, 9, 10] },
    { hx: 2760, tx: 2836, rows: [122, 185, 248, 310], idx: [11, 12, 13, 14] },
  ];
  cols.forEach((c) => {
    c.idx.forEach((di, k) => {
      const st = STYLES[di];
      const cx = X(c.hx);
      const cy = Y(c.rows[k]);
      g.push({ type: 'line', z: 101, shape: { x1: cx, y1: cy - S(21), x2: cx, y2: cy + S(21) }, style: { stroke: st.color, lineWidth: S(5) } });
      if (st.kind === 'circle') {
        g.push({ type: 'circle', z: 102, shape: { cx, cy, r: S(st.size) / 2 }, style: { fill: st.color } });
      } else {
        const pts = unitPts(st.kind).map(([x, y]) => [cx + (x * S(st.size)) / 2, cy + (y * S(st.size)) / 2]);
        g.push({ type: 'polygon', z: 102, shape: { points: pts }, style: { fill: st.color } });
      }
      g.push(txt('AAVSO: ' + scatterPct[di].toFixed(2) + ' %', c.tx, c.rows[k], LF));
    });
  });
  g.push({ type: 'circle', z: 102, shape: { cx: X(2760), cy: Y(371), r: S(30) }, style: { fill: '#ffffff', stroke: '#000000', lineWidth: S(5) } });
  g.push(txt('Binned Data: 0.15 %', 2836, 371, LF));

  const tickLabel = { fontSize: S(40), color: '#000', fontFamily: FONT };
  const splitDash = { show: true, lineStyle: { color: '#aaaaaa', width: S(2.5), type: [S(12), S(6)] } };
  const tick = { show: true, inside: false, length: S(13), lineStyle: { color: '#000', width: S(3) } };
  const axLine = { show: true, onZero: false, lineStyle: { color: '#000', width: S(4) } };
  const nameStyle = { fontSize: S(57), color: '#000', fontFamily: FONT };

  return {
    animation: false,
    backgroundColor: '#ffffff',
    textStyle: { fontFamily: FONT },
    grid: [
      { left: X(226), top: Y(29), width: X(3960), height: Y(2237), show: true, borderColor: '#000', borderWidth: S(4), backgroundColor: 'transparent' },
      { left: X(226), top: Y(2266), width: X(3960), height: Y(749), show: true, borderColor: '#000', borderWidth: S(4), backgroundColor: 'transparent' },
    ],
    xAxis: [
      { type: 'value', gridIndex: 0, min: X_MIN, max: X_MAX, axisLabel: { show: false }, axisTick: { show: false }, axisLine: { show: false }, splitLine: { show: false } },
      {
        type: 'value', gridIndex: 1, min: X_MIN, max: X_MAX,
        axisLine: axLine,
        axisTick: { ...tick, customValues: xTicks },
        axisLabel: { ...tickLabel, margin: S(26), customValues: xTicks, formatter: (v: number) => minus(v.toFixed(3)) },
        splitLine: { show: false },
        name: 'Phase', nameLocation: 'middle', nameGap: S(84),
        nameTextStyle: nameStyle,
      },
    ],
    yAxis: [
      {
        type: 'value', gridIndex: 0, min: Y_MIN, max: Y_MAX,
        axisLine: axLine,
        axisTick: { ...tick, customValues: yTicks },
        axisLabel: { ...tickLabel, margin: S(26), customValues: yTicks, formatter: (v: number) => v.toFixed(2) },
        splitLine: splitDash,
        name: 'Relative Flux', nameLocation: 'middle', nameGap: S(140),
        nameTextStyle: nameStyle,
      },
      {
        type: 'value', gridIndex: 1, min: R_MIN, max: R_MAX,
        axisLine: axLine,
        axisTick: { ...tick, customValues: rTicks },
        axisLabel: { ...tickLabel, margin: S(26), customValues: rTicks, formatter: (v: number) => minus(String(Math.round(v))) },
        splitLine: splitDash,
        name: 'Residuals [%]', nameLocation: 'middle', nameGap: S(100),
        nameTextStyle: nameStyle,
      },
    ],
    graphic: { elements: g },
    series,
  };
}

export default function App() {
  const ref = useRef<HTMLDivElement>(null);
  useEffect(() => {
    const el = ref.current;
    if (!el) return;
    document.body.style.margin = '0';
    document.body.style.overflow = 'hidden';
    const w = el.clientWidth || REF_W;
    const h = el.clientHeight || REF_H;
    const chart = echarts.init(el, null, { renderer: 'svg', width: w, height: h });
    chart.setOption(buildOption(w / REF_W, h / REF_H) as any);
    return () => chart.dispose();
  }, []);
  return <div ref={ref} style={{ position: 'fixed', left: 0, top: 0, width: '100vw', height: '100vh', overflow: 'hidden', background: '#ffffff' }} />;
}
